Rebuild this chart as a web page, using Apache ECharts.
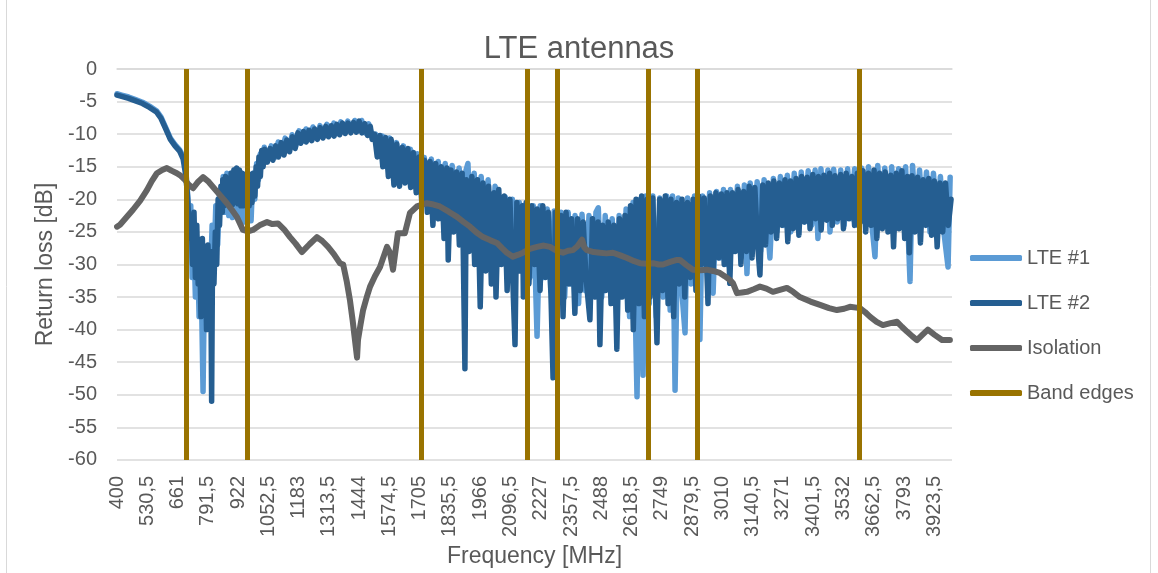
<!DOCTYPE html>
<html>
<head>
<meta charset="utf-8">
<script src="https://cdn.jsdelivr.net/npm/echarts@6/dist/echarts.min.js"></script>
<style>
  html, body { margin: 0; padding: 0; background: #fff; }
  #chart { width: 1158px; height: 573px; }
</style>
</head>
<body>
<div id="chart"></div>
<script>
// tick labels of the frequency axis (MHz)
const freqTicks = [400, 530.5, 661, 791.5, 922, 1052.5, 1183, 1313.5, 1444, 1574.5, 1705, 1835.5, 1966, 2096.5,
  2227, 2357.5, 2488, 2618.5, 2749, 2879.5, 3010, 3140.5, 3271, 3401.5, 3532, 3662.5, 3793, 3923.5];

// band edge frequencies (MHz)
const bandEdges = [698, 960, 1710, 2170, 2300, 2690, 2900, 3600];

// [frequency MHz, return loss dB]
const lte1 = [
  [400, -3.8], [420, -4.0], [450, -4.3], [480, -4.7], [510, -5.1], [540, -5.7], [570, -6.4], [590, -7.4], [610, -9],
  [630, -10.6], [650, -11.6], [670, -12.4], [685, -13.4], [695, -15],
  [700, -17], [706, -20], [712, -27], [718, -21], [724, -32], [730, -24], [738, -35], [746, -26], [754, -38], [762, -30],
  [771, -49.5], [778, -30], [786, -36], [794, -28], [802, -34], [810, -24], [818, -30], [826, -21], [834, -27], [842, -19], [850, -22],
  [858, -16.5], [866, -22], [874, -16], [882, -22.5], [890, -16], [898, -22.8], [906, -15.5], [914, -22.5], [922, -15.5],
  [930, -23], [938, -16], [946, -23.5], [954, -16.5], [962, -23.5], [970, -16.3], [978, -23.3], [986, -16], [994, -20],
  [1002, -14.5], [1010, -17], [1018, -13], [1026, -15],
  [1035, -12], [1050, -14], [1065, -11.8], [1080, -13.6], [1095, -11.2], [1110, -13], [1125, -10.6], [1140, -12.5],
  [1155, -10.1], [1170, -11.9], [1185, -9.5], [1200, -11.1], [1215, -9.2], [1230, -10.8], [1245, -8.9], [1260, -10.6],
  [1275, -8.7], [1290, -10.3], [1305, -8.5], [1320, -10.1], [1335, -8.3], [1350, -9.9], [1365, -8.1], [1380, -9.7],
  [1395, -8.0], [1410, -9.6], [1425, -7.9], [1440, -9.5], [1455, -7.9], [1470, -9.8], [1485, -8.4], [1500, -10.3],
  [1515, -10], [1530, -13], [1545, -10.3], [1560, -15], [1575, -10.6], [1590, -16], [1605, -11.3], [1620, -17],
  [1635, -11.8], [1650, -17], [1665, -12.3], [1680, -18], [1695, -13], [1710, -19], [1725, -13.6], [1740, -21],
  [1755, -13.8], [1770, -22], [1785, -14.2], [1800, -23], [1815, -14.5], [1830, -24], [1845, -14.8], [1860, -22],
  [1875, -15.2], [1890, -24], [1905, -15.5], [1913, -14.5], [1925, -25], [1940, -16], [1955, -27], [1970, -16.5],
  [1985, -26], [2000, -17], [2015, -28], [2030, -18], [2045, -19.7], [2060, -29], [2075, -19.7], [2090, -30],
  [2105, -20], [2120, -31], [2135, -20.5], [2150, -30], [2165, -20.8], [2180, -32], [2195, -21], [2211, -41],
  [2225, -21], [2240, -32], [2255, -21.5], [2270, -34], [2285, -21.8], [2300, -33], [2315, -22], [2330, -35],
  [2345, -22], [2360, -33], [2375, -22.5], [2390, -36], [2405, -22.3], [2420, -34], [2435, -22.5], [2450, -33],
  [2465, -22], [2475, -21.3], [2490, -35], [2505, -22.5], [2520, -33], [2535, -23], [2550, -36], [2565, -22.5],
  [2580, -34], [2595, -21.5], [2610, -38], [2625, -20.5], [2642, -50.3], [2655, -20], [2668, -47], [2680, -19.5],
  [2695, -36], [2710, -19.5], [2725, -38], [2740, -19.8], [2755, -35], [2770, -19.5], [2785, -37], [2795, -19.5],
  [2806, -49.3], [2820, -19.8], [2835, -34], [2849, -40.5], [2860, -19.8], [2875, -33], [2890, -19.5], [2913, -41.5],
  [2925, -19.5], [2940, -30], [2955, -19], [2970, -34.4], [2985, -18.8], [3000, -29], [3015, -18.5], [3030, -30],
  [3045, -18.5], [3060, -28], [3075, -18], [3090, -29], [3105, -17.8], [3116, -31.4], [3130, -17.5], [3145, -27],
  [3160, -17.3], [3175, -28], [3190, -17], [3215, -29], [3230, -16.8], [3245, -25], [3260, -16.5], [3275, -24],
  [3290, -16.3], [3305, -25], [3320, -16], [3335, -24], [3350, -15.8], [3365, -23.5], [3380, -15.6], [3395, -24],
  [3410, -15.5], [3422, -26], [3435, -15.3], [3450, -23], [3465, -15.5], [3474, -25], [3490, -15.4], [3505, -23.5],
  [3520, -15.5], [3535, -24], [3550, -15.3], [3565, -23], [3580, -15.3], [3595, -24], [3610, -15.2], [3625, -23.5],
  [3640, -15], [3655, -24], [3668, -28.8], [3680, -14.8], [3695, -24], [3710, -15.2], [3725, -23.5], [3740, -15],
  [3755, -24.5], [3770, -15.3], [3785, -23.5], [3800, -15], [3819, -32.6], [3830, -14.8], [3845, -24], [3860, -15.5],
  [3875, -23.5], [3890, -15.8], [3905, -25], [3920, -16], [3935, -24], [3950, -16.5], [3965, -25], [3983, -30.4], [3992, -16.6]
];

const lte2 = [
  [400, -4.0], [420, -4.2], [450, -4.5], [480, -4.9], [510, -5.3], [540, -5.9], [570, -6.6], [590, -7.6], [610, -9.2],
  [630, -10.8], [650, -11.8], [670, -12.6], [685, -13.8], [695, -16], [702, -18.5],
  [708, -22], [714, -26], [720, -23], [726, -30], [732, -22], [738, -32], [744, -24], [750, -33], [756, -27], [762, -38],
  [768, -26], [774, -34], [780, -28], [786, -40], [792, -27], [798, -33], [804, -30], [808, -51], [812, -28], [818, -33],
  [824, -25], [830, -30], [836, -20], [842, -24], [848, -18], [854, -22],
  [856, -17], [862, -21], [868, -16.5], [874, -20.5], [880, -16.8], [886, -21], [892, -16], [898, -20.8], [904, -15.5],
  [910, -20.5], [916, -15.2], [922, -20.7], [928, -15.5], [934, -21], [940, -16], [946, -21], [952, -16.2], [958, -20.8],
  [964, -16.5], [970, -21], [976, -16.2], [982, -20.5], [988, -16], [994, -19.5], [1000, -15], [1006, -18], [1012, -13.5],
  [1018, -16.5], [1024, -12.5], [1030, -15],
  [1036, -12.3], [1048, -14.3], [1060, -12.2], [1072, -14], [1084, -11.8], [1096, -13.5], [1108, -11.3], [1120, -13.2],
  [1132, -10.9], [1144, -12.7], [1156, -10.4], [1168, -12.2], [1180, -9.8], [1192, -11.4], [1204, -9.6], [1216, -11.2],
  [1228, -9.4], [1240, -11], [1252, -9.2], [1264, -10.8], [1276, -9], [1288, -10.6], [1300, -8.8], [1312, -10.4],
  [1324, -8.7], [1336, -10.3], [1348, -8.5], [1360, -10.1], [1372, -8.3], [1384, -9.9], [1396, -8.3], [1408, -9.8],
  [1420, -8.2], [1432, -9.7], [1444, -8.0], [1456, -9.8], [1468, -8.4], [1480, -10.2], [1492, -8.8], [1500, -10.8],
  [1510, -10.0], [1522, -13.5], [1534, -10.2], [1546, -15], [1558, -10.5], [1570, -16.5], [1582, -10.8], [1594, -17.8],
  [1606, -11.5], [1618, -18], [1630, -12], [1642, -17.5], [1654, -12.2], [1666, -18.2], [1678, -12.8], [1690, -19],
  [1702, -13.5], [1714, -20.5],
  [1726, -14], [1738, -22], [1750, -14.2], [1762, -24], [1774, -14.5], [1786, -23], [1798, -15], [1810, -26],
  [1822, -15.2], [1828, -29.3], [1840, -15.5], [1852, -25], [1864, -15.8], [1876, -27], [1888, -16], [1900, -46],
  [1906, -17], [1918, -28], [1930, -16.5], [1942, -30], [1954, -17], [1966, -36.5], [1978, -17.5], [1990, -31],
  [2002, -18], [2014, -33], [2026, -19], [2034, -35], [2046, -18.5], [2058, -30], [2070, -19.5], [2082, -34],
  [2094, -20], [2106, -32], [2116, -42.3], [2124, -20.5], [2136, -31], [2148, -21], [2152, -35], [2164, -20.5],
  [2176, -33], [2188, -21], [2200, -30], [2212, -21.5], [2224, -34], [2236, -21], [2248, -32], [2260, -22],
  [2272, -36], [2280, -47.4], [2290, -22], [2302, -33],
  [2314, -22.5], [2323, -38], [2336, -22], [2348, -33], [2360, -23], [2374, -37.5], [2386, -23], [2398, -34],
  [2410, -23.5], [2422, -32], [2439, -38.5], [2450, -23], [2462, -35], [2474, -23.5], [2482, -42.3], [2494, -24],
  [2506, -34], [2518, -23.5], [2530, -36], [2542, -24], [2555, -43], [2566, -23], [2578, -35], [2590, -22.5], [2602, -37],
  [2614, -21], [2626, -40], [2638, -20], [2650, -36], [2662, -19.5], [2674, -38], [2686, -20], [2698, -35],
  [2710, -19.8], [2728, -42], [2740, -20], [2752, -34], [2764, -19.5], [2776, -36], [2788, -20], [2800, -38],
  [2812, -20.5], [2824, -33], [2836, -20], [2848, -35], [2860, -20.5], [2872, -32], [2884, -20], [2896, -34],
  [2908, -19.5], [2920, -30], [2932, -19.8], [2948, -36], [2958, -19.5], [2970, -31], [2982, -19], [2994, -29],
  [3006, -19.2], [3018, -30], [3030, -19], [3042, -32.9], [3054, -19], [3066, -28], [3078, -18.5], [3090, -30],
  [3102, -18.8], [3114, -28], [3126, -18], [3138, -29], [3150, -18.2], [3162, -27], [3172, -31.6], [3184, -17.8], [3196, -27],
  [3208, -17.5], [3220, -25], [3232, -17.2], [3244, -26], [3256, -17.5], [3268, -24], [3280, -17], [3292, -26.5],
  [3304, -17.2], [3316, -24.5], [3328, -16.8], [3340, -25.5], [3352, -16.5], [3364, -23.5], [3376, -16.6], [3388, -24.5],
  [3400, -16.2], [3412, -23], [3424, -16.5], [3436, -24.7], [3448, -16.3], [3460, -23.2], [3472, -16], [3484, -24],
  [3496, -16.4], [3508, -23], [3520, -16.2], [3532, -24.5], [3544, -16], [3556, -23], [3568, -16.5], [3580, -24],
  [3592, -16], [3604, -23.5], [3616, -15.6], [3628, -25], [3640, -16], [3652, -24], [3664, -15.5], [3676, -26],
  [3688, -16], [3700, -24.5], [3712, -15.8], [3724, -25], [3736, -16.3], [3748, -27.3], [3760, -16], [3772, -24.5],
  [3784, -15.6], [3796, -26], [3808, -16.5], [3816, -28.2], [3828, -16.4], [3840, -25], [3852, -16.6], [3864, -26.7],
  [3876, -17], [3888, -24], [3900, -16.8], [3912, -25.5], [3924, -17.2], [3936, -27.3], [3948, -17.5], [3960, -25],
  [3972, -17.5], [3984, -24], [3996, -20]
];

const isolation = [
  [400, -24.2], [413, -23.9], [440, -22.8], [469, -21.6], [500, -20.2], [529, -18.6], [550, -17.2], [572, -16], [595, -15.5],
  [615, -15.2], [635, -15.6], [658, -16], [675, -16.4], [693, -17], [710, -17.8], [728, -18.3], [750, -17.3], [771, -16.6],
  [792, -17.2], [814, -18.1], [845, -19.4], [874, -20.6], [895, -21.6], [917, -22.7], [943, -24.7], [965, -24.9],
  [986, -24.7], [1015, -24], [1047, -23.5], [1070, -23.8], [1094, -23.7], [1120, -24.6], [1146, -25.8], [1170, -26.8],
  [1197, -28.1], [1230, -26.9], [1262, -25.8], [1285, -26.4], [1310, -27.3], [1335, -28.4], [1361, -29.8], [1375, -30],
  [1390, -32.5], [1404, -35.4], [1416, -38.6], [1426, -41.6], [1435, -44.3], [1439, -41.6], [1450, -39.2], [1461, -37],
  [1476, -35.1], [1491, -33.4], [1512, -31.8], [1534, -30.4], [1564, -27.3], [1577, -28.2], [1590, -30.8], [1611, -25.2],
  [1641, -25.2], [1663, -22.1], [1693, -21.1], [1736, -20.6], [1765, -20.8], [1792, -21.1], [1830, -21.9], [1866, -22.7],
  [1895, -23.5], [1922, -24.2], [1950, -25.1], [1978, -25.8], [2010, -26.3], [2038, -26.7], [2060, -27.5], [2081, -28.2],
  [2107, -28.8], [2130, -28.5], [2150, -28.2], [2180, -27.6], [2211, -27.3], [2240, -27.1], [2267, -27.3], [2295, -27.9],
  [2323, -28.2], [2345, -27.9], [2366, -27.8], [2385, -27.2], [2405, -26.2], [2415, -27.4], [2426, -27.8], [2455, -28.1],
  [2482, -28.2], [2510, -28.3], [2538, -28.2], [2570, -28.6], [2599, -29], [2630, -29.5], [2655, -29.8], [2685, -29.9],
  [2711, -29.8], [2735, -30], [2754, -30], [2785, -29.6], [2814, -29.3], [2827, -29.3], [2855, -30.1], [2883, -30.8],
  [2915, -30.9], [2943, -30.8], [2970, -31], [2999, -31.3], [3020, -31.8], [3043, -32.4], [3056, -32.9], [3073, -34.4],
  [3095, -34.3], [3116, -34.2], [3145, -33.8], [3172, -33.4], [3200, -33.7], [3228, -34.2], [3258, -33.9], [3288, -33.6],
  [3315, -34.2], [3344, -35], [3390, -35.7], [3431, -36.2], [3470, -36.7], [3504, -37], [3535, -36.8], [3560, -36.5],
  [3603, -36.7], [3625, -37.3], [3646, -38], [3675, -38.8], [3702, -39.3], [3735, -39], [3763, -38.8], [3785, -39.6],
  [3806, -40.3], [3828, -41], [3849, -41.6], [3872, -40.8], [3896, -40], [3925, -40.8], [3957, -41.6], [3991, -41.6]
];

const textColor = '#595959';
const font = '"Liberation Sans", Arial, sans-serif';

const chart = echarts.init(document.getElementById('chart'), null, { renderer: 'canvas' });

const blueLine = function (name, color, data, width) {
  return {
    name: name,
    type: 'line',
    data: data,
    showSymbol: false,
    symbol: 'none',
    itemStyle: { color: color },
    lineStyle: { color: color, width: width, cap: 'round', join: 'round' },
    emphasis: { disabled: true },
    z: 2
  };
};

const option = {
  animation: false,
  backgroundColor: '#fff',
  title: {
    text: 'LTE antennas',
    left: 'center',
    top: 29,
    textStyle: { color: textColor, fontSize: 31, fontWeight: 'normal', fontFamily: font }
  },
  legend: {
    orient: 'vertical',
    left: 965,
    top: 242,
    itemWidth: 52,
    itemHeight: 6,
    itemGap: 23,
    icon: 'roundRect',
    data: ['LTE #1', 'LTE #2', 'Isolation', 'Band edges'],
    textStyle: { color: textColor, fontSize: 20, fontFamily: font, lineHeight: 22 }
  },
  grid: {
    left: 117,
    right: 206,
    top: 69,
    bottom: 113,
    containLabel: false
  },
  xAxis: {
    type: 'value',
    min: 400,
    max: 4000,
    name: 'Frequency [MHz]',
    nameLocation: 'middle',
    nameGap: 85,
    nameTextStyle: { color: textColor, fontSize: 23, fontFamily: font },
    axisLine: { show: true, lineStyle: { color: '#d9d9d9', width: 1.5 } },
    axisTick: { show: false },
    splitLine: { show: false },
    axisLabel: {
      customValues: freqTicks,
      rotate: 90,
      margin: 16,
      color: textColor,
      fontSize: 20,
      fontFamily: font,
      formatter: function (v) { return String(v).replace('.', ','); }
    }
  },
  yAxis: {
    type: 'value',
    min: -60,
    max: 0,
    interval: 5,
    name: 'Return loss [dB]',
    nameLocation: 'middle',
    nameGap: 50,
    nameTextStyle: { color: textColor, fontSize: 23, fontFamily: font },
    axisLine: { show: false },
    axisTick: { show: false },
    splitLine: { lineStyle: { color: '#d9d9d9', width: 1.5 } },
    axisLabel: { color: textColor, fontSize: 20, fontFamily: font, margin: 20 }
  },
  series: [
    blueLine('LTE #1', '#5b9bd5', lte1, 5.5),
    blueLine('LTE #2', '#255e91', lte2, 5.5),
    {
      name: 'Isolation',
      type: 'line',
      data: isolation,
      showSymbol: false,
      symbol: 'none',
      itemStyle: { color: '#646464' },
      lineStyle: { color: '#646464', width: 6, cap: 'round', join: 'round' },
      emphasis: { disabled: true },
      z: 3
    },
    {
      // vertical band edge markers
      name: 'Band edges',
      type: 'line',
      data: [],
      itemStyle: { color: '#997300' },
      lineStyle: { color: '#997300', width: 5 },
      z: 4,
      markLine: {
        silent: true,
        symbol: 'none',
        label: { show: false },
        lineStyle: { color: '#997300', width: 5, type: 'solid' },
        data: bandEdges.map(function (f) { return { xAxis: f }; })
      }
    }
  ],
  graphic: [
    {
      type: 'rect',
      shape: { x: 6.5, y: -2, width: 1144, height: 580 },
      style: { fill: 'none', stroke: '#d9d9d9', lineWidth: 1 },
      silent: true
    }
  ]
};

chart.setOption(option);
</script>
</body>
</html>
